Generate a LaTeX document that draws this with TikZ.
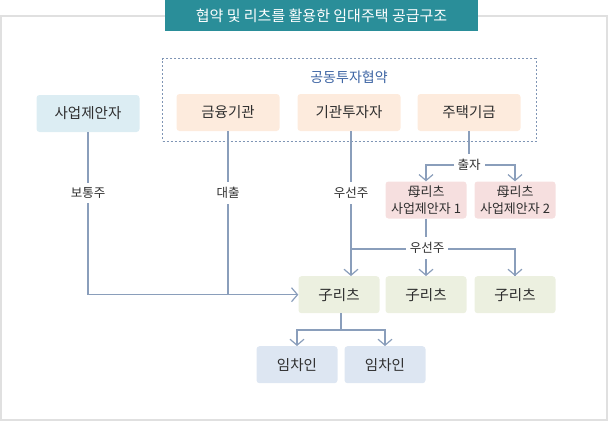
\documentclass[tikz,border=0pt]{standalone}
\usepackage{fontspec}
\setmainfont{Noto Sans CJK KR}
\usetikzlibrary{arrows.meta}
\definecolor{titlebg}{HTML}{2A8E99}
\definecolor{framec}{HTML}{E0E0E0}
\definecolor{dashc}{HTML}{7F95B5}
\definecolor{linec}{HTML}{8A9EBB}
\definecolor{peachbg}{HTML}{FDEBDD}
\definecolor{propbg}{HTML}{DCEDF3}
\definecolor{pinkbg}{HTML}{F6DFDF}
\definecolor{greenbg}{HTML}{ECF0E0}
\definecolor{tenantbg}{HTML}{DDE6F2}
\definecolor{bluetext}{HTML}{3D64A3}
\definecolor{txt}{HTML}{2E2E2E}
\tikzset{
  bigbox/.style={rounded corners=3pt, minimum width=103pt, minimum height=37pt, inner sep=0pt, text=txt, font=\fontsize{14.5}{16}\selectfont},
  smallbox/.style={rounded corners=3pt, minimum width=81pt, minimum height=37pt, inner sep=0pt, text=txt, font=\fontsize{14.5}{16}\selectfont},
  lbl/.style={fill=white, inner xsep=4pt, inner ysep=5pt, text=txt, font=\fontsize{12.5}{14}\selectfont},
  conn/.style={draw=linec, line width=1.2pt},
  arr/.style={conn, -{Straight Barb[length=6pt,width=14pt,line width=1.2pt]}}
}
\begin{document}
\begin{tikzpicture}[x=1pt,y=-1pt]
\useasboundingbox (0,0) rectangle (608,421);
% frame
\node[draw=framec, line width=1.5pt, minimum width=606pt, minimum height=404pt, inner sep=0pt] (frame) at (304,218) {};
% title
\node[fill=titlebg, minimum width=313pt, minimum height=31pt, inner sep=0pt, text=white, font=\fontsize{15}{17}\selectfont] (title) at (321.5,15.5) {협약 및 리츠를 활용한 임대주택 공급구조};
% dashed group
\node[draw=dashc, line width=1pt, dash pattern=on 2pt off 2pt, minimum width=373.5pt, minimum height=82.5pt, inner sep=0pt] (jv) at (349.25,99.75) {};
\node[text=bluetext, font=\fontsize{14}{16}\selectfont] (jvlabel) at (349,77) {공동투자협약};
% boxes
\node[bigbox, fill=propbg] (prop) at (88,113.5) {사업제안자};
\node[bigbox, fill=peachbg] (fin) at (228,112.5) {금융기관};
\node[bigbox, fill=peachbg] (inv) at (349,112.5) {기관투자자};
\node[bigbox, fill=peachbg] (fund) at (469,112.5) {주택기금};
\node[smallbox, fill=pinkbg, align=center, font=\fontsize{13}{16.5}\selectfont] (m1) at (426,200) {母리츠\\사업제안자 1};
\node[smallbox, fill=pinkbg, align=center, font=\fontsize{13}{16.5}\selectfont] (m2) at (515,200) {母리츠\\사업제안자 2};
\node[smallbox, fill=greenbg] (c1) at (339,294.7) {子리츠};
\node[smallbox, fill=greenbg] (c2) at (426,294.7) {子리츠};
\node[smallbox, fill=greenbg] (c3) at (515,294.7) {子리츠};
\node[smallbox, fill=tenantbg] (t1) at (297,364.7) {임차인};
\node[smallbox, fill=tenantbg] (t2) at (385,364.7) {임차인};
% junctions
\coordinate (jfund) at (469,165);
\coordinate (jinv) at (351,249);
\coordinate (jc) at (341,330);
% connectors
\draw[arr] (prop.south) |- (c1.west);
\draw[conn] (fin.south) -- (fin.south |- c1.west);
\draw[arr] ([xshift=2pt]inv.south) -- ([xshift=2pt]inv.south |- c1.north);
\draw[conn] (jinv) -| (c3.north);
\draw[arr] ([xshift=-0.1pt]c3.north |- jinv) -- (c3.north);
\draw[arr] (m1.south) -- (c2.north);
\draw[conn] (fund.south) -- (jfund);
\draw[arr] (jfund) -| (m1.north);
\draw[arr] (jfund) -| (m2.north);
\draw[conn] ([xshift=2pt]c1.south) -- (jc);
\draw[arr] (jc) -| (t1.north);
\draw[arr] (jc) -| (t2.north);
% labels
\node[lbl] (l1) at (prop.south |- 0,193) {보통주};
\node[lbl] (l2) at (fin.south |- 0,193) {대출};
\node[lbl] (l3) at (351,193) {우선주};
\node[lbl] (l4) at (jfund) {출자};
\node[lbl] (l5) at (427,248) {우선주};
\end{tikzpicture}
\end{document}
